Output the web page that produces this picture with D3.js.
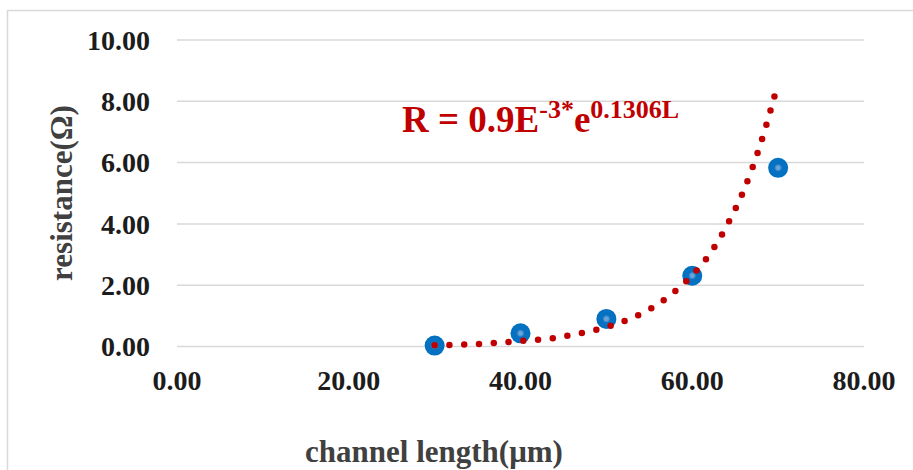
<!DOCTYPE html>
<html>
<head>
<meta charset="utf-8">
<script src="https://cdn.jsdelivr.net/npm/d3@7"></script>
<style>
  html, body { margin: 0; padding: 0; background: #fff; }
  svg { display: block; }
  text { font-family: "Liberation Serif", "Times New Roman", serif; font-weight: bold; }
</style>
</head>
<body>
<div id="chart"></div>
<script>
// measured data (channel length in um, resistance in ohm)
var lengths = [30, 40, 50, 60, 70];
var resistances = [0.03, 0.43, 0.9, 2.31, 5.83];

// exponential trendline
var trendL = [30, 35, 40, 44, 46, 49, 52, 54, 56, 58, 60, 62, 64, 66, 68, 70];
var trendR = [0.04, 0.08, 0.18, 0.28, 0.38, 0.56, 0.82, 1.06, 1.38, 1.8, 2.33, 3.0, 3.93, 5.1, 6.65, 8.6];

var xTicks = [0, 20, 40, 60, 80];
var yTicks = [0, 2, 4, 6, 8, 10];

var width = 913, height = 470;

var svg = d3.select("#chart").append("svg")
    .attr("width", width)
    .attr("height", height);

// chart frame (only top and left edges fall inside the picture)
svg.append("rect")
    .attr("x", 7.5).attr("y", 10.5)
    .attr("width", 1000).attr("height", 1000)
    .attr("fill", "none")
    .attr("stroke", "#d9d9d9")
    .attr("stroke-width", 1.5);

var x = d3.scaleLinear().domain([0, 80]).range([177, 864]);
var y = d3.scaleLinear().domain([0, 10]).range([346.5, 40]);

// horizontal grid
svg.append("g")
    .selectAll("line")
    .data(yTicks)
    .enter().append("line")
    .attr("x1", x(0)).attr("x2", x(80))
    .attr("y1", function (d) { return y(d); })
    .attr("y2", function (d) { return y(d); })
    .attr("stroke", "#d9d9d9")
    .attr("stroke-width", 1.5);

// y labels
svg.append("g")
    .selectAll("text")
    .data(yTicks)
    .enter().append("text")
    .attr("x", 150)
    .attr("y", function (d) { return y(d); })
    .attr("dy", "0.35em")
    .attr("text-anchor", "end")
    .attr("font-size", 28)
    .attr("fill", "#1c1c1c")
    .text(function (d) { return d.toFixed(2); });

// x labels
svg.append("g")
    .selectAll("text")
    .data(xTicks)
    .enter().append("text")
    .attr("x", function (d) { return x(d); })
    .attr("y", 390)
    .attr("text-anchor", "middle")
    .attr("font-size", 28)
    .attr("fill", "#1c1c1c")
    .text(function (d) { return d.toFixed(2); });

// axis titles
svg.append("text")
    .attr("x", 434).attr("y", 462)
    .attr("text-anchor", "middle")
    .attr("font-size", 31)
    .attr("fill", "#404040")
    .text("channel length(\u03bcm)");

svg.append("text")
    .attr("transform", "translate(72,193) rotate(-90)")
    .attr("text-anchor", "middle")
    .attr("font-size", 31)
    .attr("fill", "#404040")
    .text("resistance(\u03a9)");

// marker gradient
var grad = svg.append("defs").append("radialGradient")
    .attr("id", "dotGrad");
grad.append("stop").attr("offset", "0%").attr("stop-color", "#74aade");
grad.append("stop").attr("offset", "22%").attr("stop-color", "#5b9bd5");
grad.append("stop").attr("offset", "38%").attr("stop-color", "#0a72c2");
grad.append("stop").attr("offset", "100%").attr("stop-color", "#0070c0");

// measured points
svg.append("g")
    .selectAll("circle")
    .data(lengths)
    .enter().append("circle")
    .attr("cx", function (d) { return x(d); })
    .attr("cy", function (d, i) { return y(resistances[i]); })
    .attr("r", 10)
    .attr("fill", "url(#dotGrad)");

// dotted trendline
var line = d3.line()
    .x(function (d) { return x(d); })
    .y(function (d, i) { return y(trendR[i]); })
    .curve(d3.curveMonotoneX);

svg.append("path")
    .attr("d", line(trendL))
    .attr("fill", "none")
    .attr("stroke", "#c00000")
    .attr("stroke-width", 6.5)
    .attr("stroke-linecap", "round")
    .attr("stroke-dasharray", "0 14.8");

// equation
var eq = svg.append("text")
    .attr("x", 402).attr("y", 132)
    .attr("font-size", 37)
    .attr("fill", "#c00000");
eq.append("tspan").text("R = 0.9E");
eq.append("tspan").attr("font-size", 26).attr("dy", -14).text("-3*");
eq.append("tspan").attr("font-size", 37).attr("dy", 14).text("e");
eq.append("tspan").attr("font-size", 26).attr("dy", -14).text("0.1306L");
</script>
</body>
</html>
